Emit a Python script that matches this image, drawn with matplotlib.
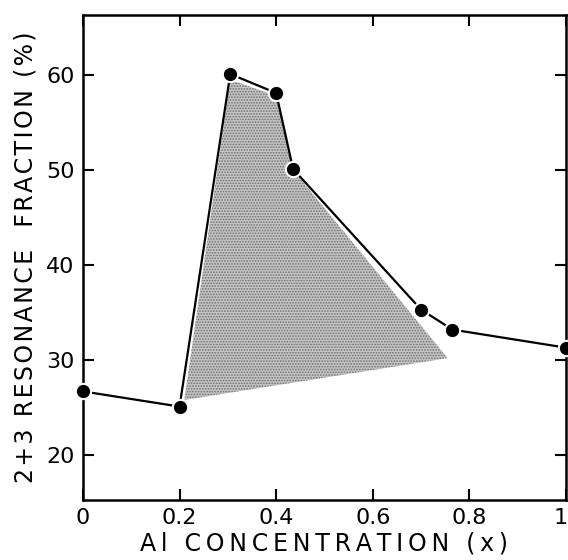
import numpy as np
import matplotlib
matplotlib.use("Agg")
import matplotlib.pyplot as plt
from matplotlib.transforms import ScaledTranslation

# data
al_conc = [0.0, 0.2, 0.305, 0.40, 0.435, 0.70, 0.765, 1.0]
fraction = [26.7, 25.1, 60.1, 58.1, 50.1, 35.3, 33.2, 31.3]

# shaded region corners
shade_x = [0.21, 0.305, 0.40, 0.435, 0.755]
shade_y = [25.8, 59.5, 57.8, 50.0, 30.2]

xticks = [0, 0.2, 0.4, 0.6, 0.8, 1.0]
xticklabels = ["0", "0.2", "0.4", "0.6", "0.8", "1"]
yticks = [20, 30, 40, 50, 60]

HS = "\u200a"  # hair space, to spread the letters like the original

def spread(s, n=1):
    return (HS * n).join(s)

plt.rcParams["font.family"] = ["DejaVu Sans"]
plt.rcParams["hatch.linewidth"] = 0.8

fig = plt.figure(figsize=(5.68, 5.60), dpi=100)
ax = fig.add_axes([0.146, 0.107, 0.8505, 0.866])

ax.fill(shade_x, shade_y, facecolor="#c4c4c4", edgecolor="none", zorder=1)
ax.fill(shade_x, shade_y, facecolor="none", edgecolor="#6e6e6e", lw=0,
        hatch="......", zorder=1)

ax.plot(al_conc, fraction, color="black", lw=1.6, zorder=2, clip_on=False)
ax.plot(al_conc, fraction, "o", ms=9.5, mfc="black", mec="white", mew=3,
        zorder=3, clip_on=False)
ax.plot(al_conc, fraction, "o", ms=8.5, color="black", zorder=4, clip_on=False)

ax.set_xlim(0, 1)
ax.set_ylim(15.26, 66.3)
ax.set_xticks(xticks)
ax.set_xticklabels(xticklabels)
ax.set_yticks(yticks)
ax.tick_params(direction="in", length=8, width=1.5, top=True, right=True,
               labelsize=16, pad=6)
for s in ax.spines.values():
    s.set_linewidth(1.8)

# the last label sits on the figure edge, nudge it in a little
last = ax.get_xticklabels()[-1]
last.set_transform(last.get_transform()
                   + ScaledTranslation(-5 / 100, 0, fig.dpi_scale_trans))

ax.set_xlabel(spread("Al CONCENTRATION (x)", 2), fontsize=17, labelpad=2)
ax.set_ylabel(spread("2+3 RESONANCE  FRACTION (%)"), fontsize=17, labelpad=6)

fig.savefig("out.png", dpi=100)
